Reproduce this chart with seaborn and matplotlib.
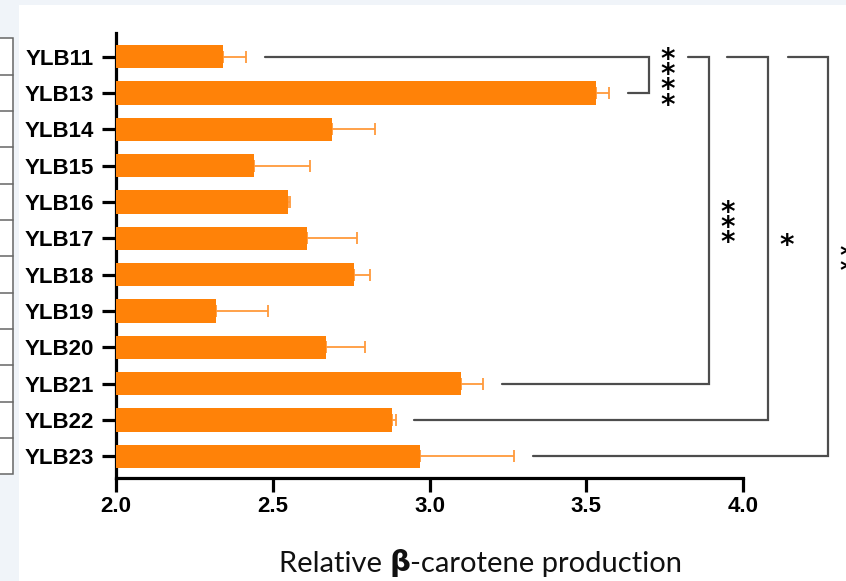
import matplotlib
matplotlib.use("Agg")
import matplotlib.pyplot as plt
import matplotlib.transforms as mtransforms
from matplotlib.patches import Rectangle
import seaborn as sns
import pandas as pd
import numpy as np

# data
strains = ["YLB11", "YLB13", "YLB14", "YLB15", "YLB16", "YLB17",
           "YLB18", "YLB19", "YLB20", "YLB21", "YLB22", "YLB23"]
production = [2.34, 3.53, 2.69, 2.44, 2.55, 2.61,
              2.76, 2.32, 2.67, 3.10, 2.88, 2.97]
sem = [0.074, 0.043, 0.136, 0.18, 0.006, 0.158,
       0.049, 0.166, 0.123, 0.07, 0.012, 0.299]
x_ticks = [2.0, 2.5, 3.0, 3.5, 4.0]

# significance comparisons: (group a, group b, stars)
comparisons = [("YLB11", "YLB13", "****"),
               ("YLB11", "YLB21", "***"),
               ("YLB11", "YLB22", "*"),
               ("YLB11", "YLB23", "**")]
bracket_x = [3.70, 3.89, 4.08, 4.27]
bracket_top_start = [None, 3.825, 3.95, 4.143]

bar_color = "#ff8208"
err_color = "#ff9a3c"
line_color = "#4d4d4d"
pale = "#f0f4f9"

sns.set_theme(style="ticks")
plt.rcParams["font.family"] = ["Liberation Sans", "DejaVu Sans"]

fig = plt.figure(figsize=(8.46, 5.81), dpi=100)
fig.patch.set_facecolor(pale)
fig.add_artist(Rectangle((19 / 846, 0), 1 - 19 / 846, 1 - 5 / 581,
                         transform=fig.transFigure, facecolor="white",
                         edgecolor="none", zorder=0))

ax = fig.add_axes([116 / 846, 103 / 581, 627 / 846, 445 / 581])

df = pd.DataFrame({"strain": strains, "production": production})
sns.barplot(data=df, x="production", y="strain", orient="h", color=bar_color,
            saturation=1, width=0.64, errorbar=None, ax=ax)
for p in ax.patches:
    p.set_zorder(3)
    p.set_edgecolor("none")

pos = np.arange(len(strains))
ax.errorbar(production, pos, xerr=[np.zeros(len(sem)), sem], fmt="none",
            ecolor=err_color, elinewidth=1.3, capsize=4, capthick=1.3, zorder=2)

ax.set_xlim(2.0, 4.0)
ax.set_ylim(11.6, -0.65)
ax.set_xticks(x_ticks)
ax.set_xticklabels([f"{t:.1f}" for t in x_ticks])
ax.set_ylabel("")
ax.set_xlabel("")

for side in ["top", "right"]:
    ax.spines[side].set_visible(False)
for side in ["left", "bottom"]:
    ax.spines[side].set_linewidth(2.3)
    ax.spines[side].set_color("black")
ax.tick_params(axis="both", length=10, width=2.3, color="black",
               labelsize=16, labelcolor="black")
ax.tick_params(axis="y", pad=6)
ax.tick_params(axis="x", pad=3)
for lab in ax.get_xticklabels() + ax.get_yticklabels():
    lab.set_fontweight("bold")

# significance brackets, stars stacked vertically
for (a, b, stars), vx, top_start in zip(comparisons, bracket_x, bracket_top_start):
    ia, ib = strains.index(a), strains.index(b)
    if top_start is None:
        top_start = production[ia] + sem[ia] + 0.06
    bot_start = production[ib] + sem[ib] + 0.06
    ax.plot([top_start, vx, vx, bot_start], [ia, ia, ib, ib], color=line_color,
            lw=1.6, clip_on=False, solid_joinstyle="miter", zorder=4)
    ax.text(vx + 0.06, (ia + ib) / 2 + 0.22, "\n".join(stars), ha="center",
            va="center", fontsize=20, fontweight="bold", color="black",
            family="DejaVu Sans", linespacing=0.42, clip_on=False)

# cut-off table at the left edge
tr = mtransforms.blended_transform_factory(fig.transFigure, ax.transData)
ax.add_patch(Rectangle((-0.01, -0.5), 0.01 + 13 / 846, len(strains),
                       transform=tr, facecolor="white", edgecolor="#666666",
                       lw=1.1, clip_on=False, zorder=1))
for i in range(1, len(strains)):
    ax.plot([0, 13 / 846], [i - 0.5, i - 0.5], transform=tr,
            color="#666666", lw=1.1, clip_on=False, zorder=1)

# x label with a bold beta
t1 = fig.text(279 / 846, 9 / 581, "Relative ", family="Lato", fontsize=21,
              va="baseline", ha="left", color="#111111")
t2 = ax.annotate("\u03b2", xycoords=t1, xy=(1, 0), va="bottom", ha="left",
                 family="DejaVu Sans", fontweight="bold", fontsize=21,
                 color="#111111", annotation_clip=False)
ax.annotate("-carotene production", xycoords=t2, xy=(1, 0), va="bottom",
            ha="left", family="Lato", fontsize=21, color="#111111",
            annotation_clip=False)

fig.savefig("out.png", dpi=100, facecolor=fig.get_facecolor())
